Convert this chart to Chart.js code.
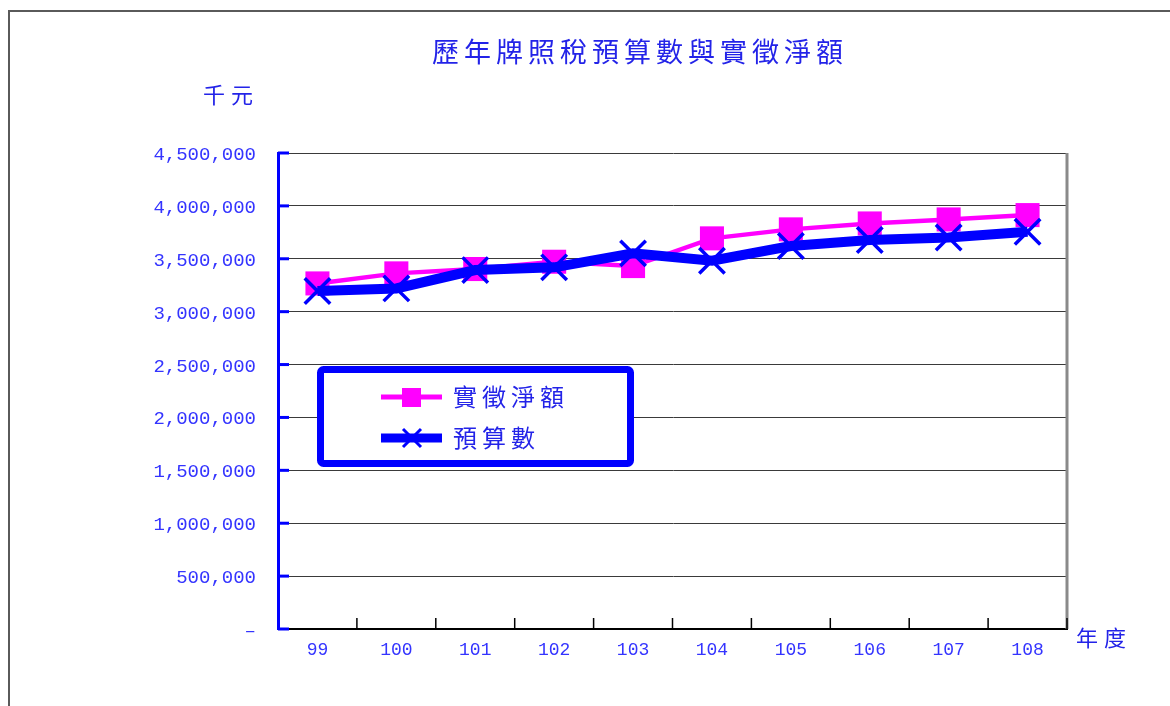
<!DOCTYPE html>
<html>
<head>
<meta charset="utf-8">
<script src="https://cdn.jsdelivr.net/npm/chart.js@4/dist/chart.umd.min.js"></script>
<style>
  html, body { margin: 0; padding: 0; background: #fff; }
  canvas { display: block; }
</style>
</head>
<body>
<canvas id="taxChart" width="1170" height="706"></canvas>
<script>
const years = ['99', '100', '101', '102', '103', '104', '105', '106', '107', '108']
const actualNet = [3267000, 3362000, 3403000, 3472000, 3431000, 3693000, 3778000, 3834000, 3872000, 3913000]
const budget = [3195000, 3220000, 3393000, 3419000, 3551000, 3481000, 3620000, 3677000, 3702000, 3755000]

const chartTitle = '歷年牌照稅預算數與實徵淨額'
const yUnit = '千元'
const xUnit = '年度'
const seriesNames = ['實徵淨額', '預算數']

const textBlue = '#2323e8'
const tickBlue = '#3434ff'
const cjkFont = '"Noto Sans CJK TC", "Noto Sans CJK SC", sans-serif'
const numFont = '"Liberation Mono", "DejaVu Sans Mono", monospace'

function drawText(ctx, text, x, y, size, spacing, align) {
  ctx.save()
  ctx.font = `${size}px ${cjkFont}`
  ctx.fillStyle = textBlue
  ctx.letterSpacing = spacing + 'px'
  ctx.textAlign = align
  ctx.textBaseline = 'middle'
  ctx.fillText(text, x, y)
  ctx.restore()
}

// frame, titles, inward ticks and the boxed legend
const decorations = {
  id: 'decorations',
  beforeDraw(chart) {
    const ctx = chart.ctx
    ctx.save()
    ctx.strokeStyle = '#5a5a5a'
    ctx.lineWidth = 2
    ctx.beginPath()
    ctx.moveTo(9, 706)
    ctx.lineTo(9, 11)
    ctx.lineTo(1170, 11)
    ctx.stroke()
    ctx.restore()
  },
  afterDatasetsDraw(chart) {
    const ctx = chart.ctx
    const area = chart.chartArea
    const xScale = chart.scales.x
    const yScale = chart.scales.y

    ctx.save()
    // right edge of the plot
    ctx.strokeStyle = '#8a8a8a'
    ctx.lineWidth = 3
    ctx.beginPath()
    ctx.moveTo(area.right, area.top)
    ctx.lineTo(area.right, area.bottom)
    ctx.stroke()

    // y ticks pointing into the plot
    ctx.strokeStyle = '#0000ff'
    ctx.lineWidth = 3
    yScale.ticks.forEach(t => {
      const y = yScale.getPixelForValue(t.value)
      ctx.beginPath()
      ctx.moveTo(area.left, y)
      ctx.lineTo(area.left + 11, y)
      ctx.stroke()
    })

    // x ticks between categories, pointing up
    ctx.strokeStyle = '#000'
    ctx.lineWidth = 1.5
    for (let i = 0; i < years.length; i++) {
      const x = (xScale.getPixelForValue(i) + xScale.getPixelForValue(i + 1)) / 2
      ctx.beginPath()
      ctx.moveTo(x, area.bottom)
      ctx.lineTo(x, area.bottom - 11)
      ctx.stroke()
    }
    ctx.restore()

    drawText(ctx, chartTitle, 640, 52, 27, 5, 'center')
    drawText(ctx, yUnit, 231, 95, 22, 6, 'center')
    drawText(ctx, xUnit, 1104, 638, 22, 6, 'center')

    // legend box
    ctx.save()
    ctx.fillStyle = '#fff'
    ctx.strokeStyle = '#0000ff'
    ctx.lineWidth = 7
    ctx.beginPath()
    ctx.roundRect(320.5, 369.5, 310, 94, 3)
    ctx.fill()
    ctx.stroke()

    const rows = [397, 438]
    chart.data.datasets.forEach((ds, i) => {
      const y = rows[i]
      ctx.strokeStyle = ds.borderColor
      ctx.lineWidth = i === 0 ? 5 : 9
      ctx.beginPath()
      ctx.moveTo(381, y)
      ctx.lineTo(442, y)
      ctx.stroke()
      if (ds.pointStyle === 'rect') {
        ctx.fillStyle = ds.pointBackgroundColor
        ctx.fillRect(402, y - 9, 19, 19)
      } else {
        ctx.lineWidth = 3
        ctx.strokeStyle = ds.pointBorderColor
        ctx.beginPath()
        ctx.moveTo(403, y - 9)
        ctx.lineTo(421, y + 9)
        ctx.moveTo(421, y - 9)
        ctx.lineTo(403, y + 9)
        ctx.stroke()
      }
      drawText(ctx, ds.label, 453, y, 24, 5, 'left')
    })
    ctx.restore()
  }
}

const ctx = document.getElementById('taxChart').getContext('2d')

new Chart(ctx, {
  type: 'line',
  data: {
    labels: years,
    datasets: [
      {
        label: seriesNames[0],
        data: actualNet,
        borderColor: '#ff00ff',
        borderWidth: 4.5,
        pointStyle: 'rect',
        pointRadius: 17,
        pointBackgroundColor: '#ff00ff',
        pointBorderColor: '#ff00ff',
        pointBorderWidth: 0,
        tension: 0,
        order: 2
      },
      {
        label: seriesNames[1],
        data: budget,
        borderColor: '#0000ff',
        borderWidth: 10,
        pointStyle: 'crossRot',
        pointRadius: 18,
        pointBackgroundColor: '#0000ff',
        pointBorderColor: '#0000ff',
        pointBorderWidth: 3.5,
        tension: 0,
        order: 1
      }
    ]
  },
  options: {
    responsive: false,
    animation: false,
    layout: {
      padding: { left: 0, right: 103, top: 153, bottom: 0 }
    },
    plugins: {
      legend: { display: false },
      title: { display: false },
      tooltip: { enabled: false }
    },
    scales: {
      x: {
        offset: true,
        grid: { display: false, drawTicks: false },
        border: { display: true, color: '#000', width: 2 },
        ticks: {
          color: tickBlue,
          padding: 10,
          font: { family: numFont, size: 18 }
        },
        afterFit(scale) {
          scale.height = 77
        }
      },
      y: {
        min: 0,
        max: 4500000,
        grid: { color: '#3a3a3a', lineWidth: 1, drawTicks: false },
        border: { display: true, color: '#0000ff', width: 3 },
        ticks: {
          stepSize: 500000,
          color: tickBlue,
          padding: 22,
          labelOffset: 2,
          font: { family: numFont, size: 19 },
          callback: value => value === 0 ? '–' : value.toLocaleString('en-US')
        },
        afterFit(scale) {
          scale.width = 278
        }
      }
    }
  },
  plugins: [decorations]
})
</script>
</body>
</html>
